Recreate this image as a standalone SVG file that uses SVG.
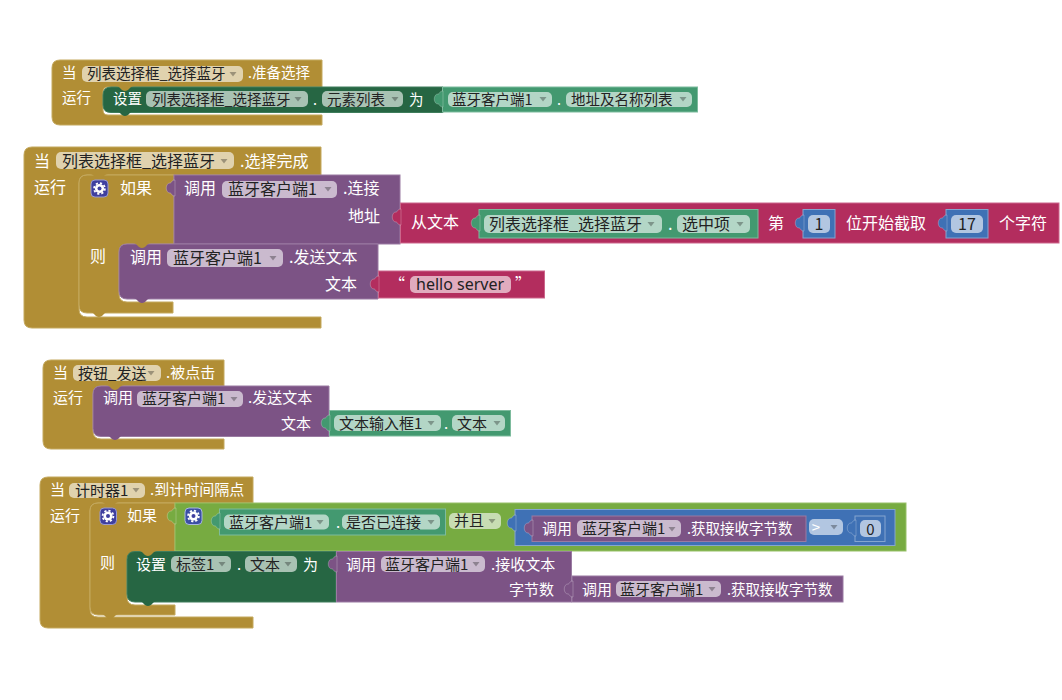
<svg xmlns="http://www.w3.org/2000/svg" width="1062" height="700" viewBox="0 0 1062 700">
<style>
text{font-family:"Noto Sans CJK SC","Liberation Sans",sans-serif;dominant-baseline:central;fill:#fff;transform:translateY(-1px)}
.s{font-size:14.5px}.m{font-size:15px}.l{font-size:16px}
.n{font-size:14.5px}
.f{fill:#222}
.e{text-anchor:end}.c{text-anchor:middle}
.pill{fill:#fff;fill-opacity:.6;stroke:none}
.arr{fill:#000;fill-opacity:.3}
.gold{fill:#B18E35;stroke:#C4A95F;stroke-width:1}
.dg{fill:#266643;stroke:#3F7D5C;stroke-width:1}
.mg{fill:#439970;stroke:#7DBB9D;stroke-width:1}
.pu{fill:#7C5385;stroke:#9A7BA2;stroke-width:1}
.ma{fill:#B32D5E;stroke:#CC668B;stroke-width:1}
.bl{fill:#3F71B5;stroke:#85A5D0;stroke-width:1}
.lg{fill:#77AB41;stroke:#97C069;stroke-width:1}
.t-gold{fill:#B18E35}.t-dg{fill:#266643}
.tab{stroke:#fff;stroke-opacity:.3;stroke-width:.8}
.t-mg{fill:#439970}.t-pu{fill:#7C5385}.t-ma{fill:#B32D5E}.t-bl{fill:#3F71B5}.t-lg{fill:#77AB41}
</style>
<defs>
<path id="tab" d="M1,-8C-3,-8-2,-5-4,-5C-9,-5-9,5-4,5C-2,5-3,8 1,8Z"/>
<path id="notch" d="M-9,-1C-5,-1-4,4 0,4C4,4 5,-1 9,-1Z"/>
<polygon id="arrow" class="arr" points="-3.5,-2 3.5,-2 0,2.5"/>
<g id="gear">
<circle r="4.6" fill="#fff"/><circle r="5.4" fill="none" stroke="#fff" stroke-width="1.8" stroke-dasharray="2.2 2"/><circle r="2" fill="#3F3F9F"/>
</g>
</defs>
<rect width="1062" height="700" fill="#fff"/>

<g id="block-prepare">
<path class="gold" d="M60,60H322V87H108Q103,87 103,92V110Q103,115 108,115H322V125H60Q52,125 52,117V68Q52,60 60,60Z"/>
<text class="s" x="62" y="72">当</text>
<rect class="pill" x="82" y="66" width="161" height="16" rx="5"/><text class="s f" x="87" y="73">列表选择框_选择蓝牙</text><use href="#arrow" x="233" y="74"/>
<text class="s" x="248" y="72">.准备选择</text>
<text class="s" x="62" y="97">运行</text>
<path class="dg" d="M111,87H443V112.500H111Q103,112.500 103,105V95Q103,87 111,87Z"/>
<text class="s" x="113" y="98">设置</text>
<rect class="pill" x="146" y="91" width="162" height="16" rx="5"/><text class="s f" x="152" y="99">列表选择框_选择蓝牙</text><use href="#arrow" x="298" y="99"/>
<text class="s" x="313" y="99">.</text>
<rect class="pill" x="322" y="91" width="81" height="16" rx="5"/><text class="s f" x="327" y="99">元素列表</text><use href="#arrow" x="395" y="99"/>
<text class="s" x="409" y="99">为</text>
<rect class="mg" x="442.500" y="87" width="255" height="25"/>
<rect class="pill" x="448" y="92" width="104" height="15" rx="5"/><text class="s f" x="452" y="99">蓝牙客户端1</text><use href="#arrow" x="543" y="99"/>
<text class="s" x="557" y="99">.</text>
<rect class="pill" x="566" y="92" width="126" height="15" rx="5"/><text class="s f" x="571" y="99">地址及名称列表</text><use href="#arrow" x="683" y="99"/>
</g>

<g id="block-after-picking">
<path class="gold" d="M32,147H321V175H87Q79,175 79,183V309Q79,317 87,317H321V328H32Q24,328 24,320V155Q24,147 32,147Z"/>
<text class="l" x="34" y="161">当</text>
<rect class="pill" x="56" y="152" width="178" height="17" rx="5"/><text class="l f" x="62" y="161">列表选择框_选择蓝牙</text><use href="#arrow" x="224" y="161"/>
<text class="l" x="240" y="161">.选择完成</text>
<text class="l" x="34" y="187">运行</text>
</g>
<g id="block-if-1">
<path class="gold" d="M87,175H174V244H127Q119,244 119,252V294Q119,302 127,302H173V313H87Q79,313 79,305V183Q79,175 87,175Z"/>
<rect x="91" y="180" width="17" height="17" rx="4" fill="#3F3F9F" stroke="#9A9AD0"/><use href="#gear" x="99.500" y="188.500"/>
<text class="l" x="120" y="188">如果</text>
<text class="l" x="90" y="256">则</text>
</g>
<g id="block-call-connect">
<rect class="pu" x="174" y="175" width="226" height="69"/>
<text class="l" x="184" y="188">调用</text>
<rect class="pill" x="222" y="181" width="115" height="17" rx="5"/><text class="l f" x="228" y="189">蓝牙客户端1</text><use href="#arrow" x="328" y="189"/>
<text class="l" x="343" y="188">.连接</text>
<text class="l e" x="380" y="216">地址</text>
</g>
<g id="block-segment">
<rect class="ma" x="400.500" y="203" width="658.500" height="40"/>
<text class="l" x="411" y="222">从文本</text>
<rect class="mg" x="479" y="209.500" width="279" height="28.500"/>
<rect class="pill" x="484" y="215" width="178" height="18" rx="5"/><text class="l f" x="489" y="223.500">列表选择框_选择蓝牙</text><use href="#arrow" x="651" y="224"/>
<text class="l" x="668" y="224">.</text>
<rect class="pill" x="677" y="215" width="73" height="18" rx="5"/><text class="l f" x="682" y="223.500">选中项</text><use href="#arrow" x="740" y="224"/>
<text class="l" x="768" y="223">第</text>
<rect class="bl" x="803" y="209.500" width="32" height="28.500"/>
<rect class="pill" x="808" y="215" width="22" height="18" rx="5"/><text class="l f c" x="819" y="224">1</text>
<text class="l" x="846" y="223">位开始截取</text>
<rect class="bl" x="946" y="209.500" width="42" height="28.500"/>
<rect class="pill" x="951" y="215" width="32" height="18" rx="5"/><text class="l f c" x="967" y="224">17</text>
<text class="l" x="999" y="223">个字符</text>
</g>
<g id="block-send-1">
<path class="pu" d="M127,244H378V299H127Q119,299 119,291V252Q119,244 127,244Z"/>
<text class="l" x="130" y="257">调用</text>
<rect class="pill" x="167" y="249" width="116" height="18" rx="5"/><text class="l f" x="173" y="258">蓝牙客户端1</text><use href="#arrow" x="273" y="258"/>
<text class="l" x="289" y="257">.发送文本</text>
<text class="l e" x="357" y="284">文本</text>
<rect class="ma" x="378.500" y="271" width="166" height="27"/>
<text class="l" x="389" y="284">“</text>
<rect class="pill" x="410" y="276" width="101" height="17" rx="5"/><text class="l f" x="416" y="284.500" style="font-family:'Noto Sans','Liberation Sans',sans-serif">hello server</text>
<text class="l" x="515" y="284">”</text>
</g>

<g id="block-click">
<path class="gold" d="M51,360H224V386H101Q93,386 93,394V431Q93,439 101,439H224V449H51Q43,449 43,441V368Q43,360 51,360Z"/>
<text class="m" x="53" y="372">当</text>
<rect class="pill" x="73" y="365" width="88" height="16" rx="5"/><text class="m f" x="78" y="373">按钮_发送</text><use href="#arrow" x="151" y="373"/>
<text class="m" x="166" y="372">.被点击</text>
<text class="m" x="53" y="397">运行</text>
</g>
<g id="block-send-2">
<path class="pu" d="M101,386H329V436.500H101Q93,436.500 93,428.500V394Q93,386 101,386Z"/>
<text class="m" x="103" y="397">调用</text>
<rect class="pill" x="137" y="391" width="106" height="16" rx="5"/><text class="m f" x="142" y="398">蓝牙客户端1</text><use href="#arrow" x="234" y="399"/>
<text class="m" x="248" y="397">.发送文本</text>
<text class="m e" x="311" y="423">文本</text>
<rect class="mg" x="329.500" y="410.500" width="181" height="25.500"/>
<rect class="pill" x="334" y="415" width="107" height="16" rx="5"/><text class="m f" x="339" y="423">文本输入框1</text><use href="#arrow" x="431" y="423"/>
<text class="m" x="444" y="423">.</text>
<rect class="pill" x="452" y="415" width="53" height="16" rx="5"/><text class="m f" x="457" y="423">文本</text><use href="#arrow" x="497" y="423"/>
</g>

<g id="block-timer">
<path class="gold" d="M48,477H253V503H98Q90,503 90,511V609Q90,617 98,617H253V628H48Q40,628 40,620V485Q40,477 48,477Z"/>
<text class="m" x="50" y="489">当</text>
<rect class="pill" x="69" y="483" width="76" height="15" rx="5"/><text class="m f" x="75" y="490">计时器1</text><use href="#arrow" x="136" y="490"/>
<text class="m" x="150" y="489">.到计时间隔点</text>
<text class="m" x="50" y="515">运行</text>
</g>
<g id="block-if-2">
<path class="gold" d="M98,503H175V552H135Q127,552 127,560V597Q127,605 135,605H175V615H98Q90,615 90,607V511Q90,503 98,503Z"/>
<rect x="100" y="508" width="16.500" height="16.500" rx="4" fill="#3F3F9F" stroke="#9A9AD0"/><use href="#gear" x="108" y="516"/>
<text class="m" x="127" y="515">如果</text>
<text class="m" x="100" y="562">则</text>
</g>
<g id="block-and">
<rect class="lg" x="175" y="503" width="731" height="48"/>
<rect x="185" y="508" width="17" height="16.500" rx="4" fill="#3B4FA5" stroke="#A9B8DF"/><use href="#gear" x="193.500" y="516"/>
<rect class="mg" x="219.500" y="509" width="226" height="26"/>
<rect class="pill" x="224" y="514.500" width="105" height="15" rx="5"/><text class="m f" x="229" y="522">蓝牙客户端1</text><use href="#arrow" x="320" y="522"/>
<text class="m" x="336" y="522">.</text>
<rect class="pill" x="342" y="514.500" width="98" height="15" rx="5"/><text class="m f" x="346" y="522">是否已连接</text><use href="#arrow" x="431" y="522"/>
<rect x="449" y="513" width="52" height="16" rx="5" fill="#fff" fill-opacity=".6"/><text class="m f" x="454" y="520.500">并且</text><use href="#arrow" x="492" y="521"/>
<rect class="bl" x="515" y="509.500" width="380" height="36"/>
<rect class="pu" x="532" y="516" width="274" height="25.500"/>
<text class="m" x="542" y="528">调用</text>
<rect class="pill" x="577" y="520" width="104" height="17" rx="5"/><text class="m f" x="582" y="528.500">蓝牙客户端1</text><use href="#arrow" x="672" y="529"/>
<text class="n" x="687" y="528">.获取接收字节数</text>
<rect class="pill" x="809" y="519" width="34" height="16" rx="5"/><text class="m c" x="816" y="527">&gt;</text><use href="#arrow" x="834" y="527"/>
<rect class="bl" x="855" y="516" width="30" height="25.500"/>
<rect class="pill" x="860" y="520" width="21" height="17" rx="5"/><text class="m f c" x="870.500" y="529">0</text>
</g>
<g id="block-set-label">
<path class="dg" d="M135,551.500H336V602H135Q127,602 127,594V559.500Q127,551.500 135,551.500Z"/>
<text class="m" x="136" y="564">设置</text>
<rect class="pill" x="171" y="556" width="60" height="16" rx="5"/><text class="m f" x="176" y="564">标签1</text><use href="#arrow" x="222" y="564"/>
<text class="m" x="237" y="564">.</text>
<rect class="pill" x="245" y="556" width="52" height="16" rx="5"/><text class="m f" x="250" y="564">文本</text><use href="#arrow" x="288" y="564"/>
<text class="m" x="303" y="564">为</text>
<rect class="pu" x="336.500" y="551.500" width="235" height="50.500"/>
<text class="m" x="346" y="564">调用</text>
<rect class="pill" x="381" y="556" width="104" height="16" rx="5"/><text class="m f" x="385" y="564">蓝牙客户端1</text><use href="#arrow" x="476" y="564"/>
<text class="m" x="491" y="564">.接收文本</text>
<text class="m e" x="554" y="589">字节数</text>
<rect class="pu" x="572" y="576" width="271" height="26"/>
<text class="m" x="582" y="589">调用</text>
<rect class="pill" x="616" y="581" width="105" height="16" rx="5"/><text class="m f" x="620" y="589">蓝牙客户端1</text><use href="#arrow" x="712" y="589"/>
<text class="n" x="727" y="589">.获取接收字节数</text>
</g>

<g id="connectors">
<use href="#notch" class="t-dg" x="125" y="112"/>
<use href="#notch" class="t-gold" x="125" y="87"/>
<use href="#tab" class="tab t-mg" x="442" y="99"/>
<use href="#notch" class="t-gold" x="99" y="175"/>
<use href="#notch" class="t-gold" x="99" y="313"/>
<use href="#tab" class="tab t-pu" x="174" y="188"/>
<use href="#tab" class="tab t-ma" x="400" y="217"/>
<use href="#tab" class="tab t-mg" x="479" y="223"/>
<use href="#tab" class="tab t-bl" x="803" y="223"/>
<use href="#tab" class="tab t-bl" x="946" y="223"/>
<use href="#notch" class="t-pu" x="142" y="299"/>
<use href="#notch" class="t-gold" x="142" y="244"/>
<use href="#tab" class="tab t-ma" x="378" y="284"/>
<use href="#notch" class="t-gold" x="115" y="386"/>
<use href="#notch" class="t-pu" x="115" y="436"/>
<use href="#tab" class="tab t-mg" x="329" y="423"/>
<use href="#notch" class="t-gold" x="110" y="503"/>
<use href="#notch" class="t-gold" x="110" y="615"/>
<use href="#tab" class="tab t-lg" x="175" y="516"/>
<use href="#tab" class="tab t-mg" x="219" y="521"/>
<use href="#tab" class="tab t-bl" x="515" y="523"/>
<use href="#tab" class="tab t-pu" x="532" y="528"/>
<use href="#tab" class="tab t-bl" x="855" y="528"/>
<use href="#notch" class="t-gold" x="148" y="552"/>
<use href="#notch" class="t-dg" x="148" y="602"/>
<use href="#tab" class="tab t-pu" x="336" y="564"/>
<use href="#tab" class="tab t-pu" x="572" y="589"/>
</g>
</svg>
